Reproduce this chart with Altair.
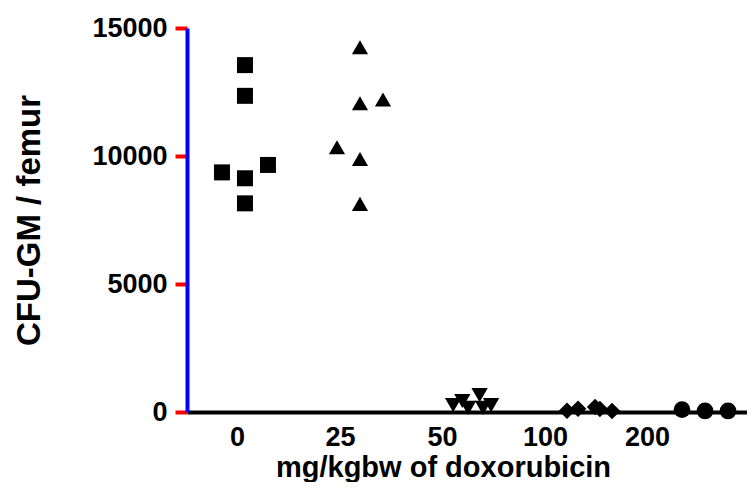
import altair as alt
import pandas as pd

# ---- data ----
doses = [0, 25, 50, 100, 200]
dose_labels = ["0", "25", "50", "100", "200"]
shapes = ["square", "triangle-up", "triangle-down", "diamond", "circle"]
marker_sizes = [256, 280, 280, 256, 196]

cfu_0 = [13550, 12350, 9360, 9130, 9650, 8150]
slot_0 = [0, 0, -1, 0, 1, 0]
cfu_25 = [14250, 12060, 12210, 10340, 9880, 8130]
slot_25 = [0, 0, 1, -1, 0, 0]
cfu_50 = [660, 430, 270, 270, 160, 160]
slot_50 = [0.2, -0.55, -0.95, 0.7, -0.3, 0.35]
cfu_100 = [50, 130, 195, 117, 40]
slot_100 = [-1, -0.52, 0.22, 0.43, 0.96]
cfu_200 = [90, 40, 40]
slot_200 = [-1, 0, 1]

label_pos = [-0.07, 0.826, 1.713, 2.609, 3.496]

x_title = "mg/kgbw of doxorubicin"
y_title = "CFU-GM / femur"
y_ticks = [0, 5000, 10000, 15000]
y_range = [0, 15000]

groups = [(0, cfu_0, slot_0), (25, cfu_25, slot_25), (50, cfu_50, slot_50),
          (100, cfu_100, slot_100), (200, cfu_200, slot_200)]
rows = []
for d, vals, slots in groups:
    for v, s in zip(vals, slots):
        rows.append({"dose": d, "idx": doses.index(d), "cfu": v, "slot": s})
df = pd.DataFrame(rows)

FONT = "Liberation Sans"

mids = [(label_pos[i] + label_pos[i + 1]) / 2 for i in range(len(label_pos) - 1)]
expr = f"'{dose_labels[-1]}'"
for i in range(len(mids) - 1, -1, -1):
    expr = f"datum.value < {mids[i]:.4f} ? '{dose_labels[i]}' : ({expr})"

x_scale = alt.Scale(domain=[-0.504, 4.365], nice=False, zero=False)
x_axis = alt.Axis(values=label_pos, labelExpr=expr, ticks=False, tickSize=0,
                  domainWidth=4, domainColor="black", grid=False,
                  labelPadding=12, labelAngle=0, labelFont=FONT, labelFontSize=27,
                  labelFontWeight="bold", labelColor="black", labelFlush=False,
                  labelOverlap=False,
                  title=x_title, titleFont=FONT, titleFontSize=29, titleFontWeight="bold",
                  titleColor="black", titleX=256, titleY=64, titleBaseline="alphabetic",
                  titleAlign="center")
y_scale = alt.Scale(domain=y_range, nice=False)
y_axis = alt.Axis(values=y_ticks, format="d", tickSize=12, tickWidth=4, tickColor="red",
                  domainWidth=4, domainColor="blue",
                  labelFont=FONT, labelFontSize=27, labelFontWeight="bold",
                  labelColor="black", labelPadding=8, grid=False,
                  title=y_title, titleFont=FONT, titleFontSize=33, titleFontWeight="bold",
                  titleColor="black", titlePadding=45)

points = alt.Chart(df).transform_calculate(
    xpos="datum.idx + datum.slot * 0.2"
).mark_point(filled=True, opacity=1, color="black", strokeWidth=0).encode(
    x=alt.X("xpos:Q", scale=x_scale, axis=x_axis),
    y=alt.Y("cfu:Q", scale=y_scale, axis=y_axis),
    shape=alt.Shape("dose:O", scale=alt.Scale(domain=doses, range=shapes), legend=None),
    size=alt.Size("dose:O", scale=alt.Scale(domain=doses, range=marker_sizes), legend=None),
)

chart = points.properties(
    width=560,
    height=384,
    padding={"left": 179, "top": 20, "right": 0, "bottom": 70},
    autosize=alt.AutoSizeParams(type="none"),
).configure_view(stroke=None)

chart.save("out.html", embed_options={"renderer": "svg", "actions": False})
